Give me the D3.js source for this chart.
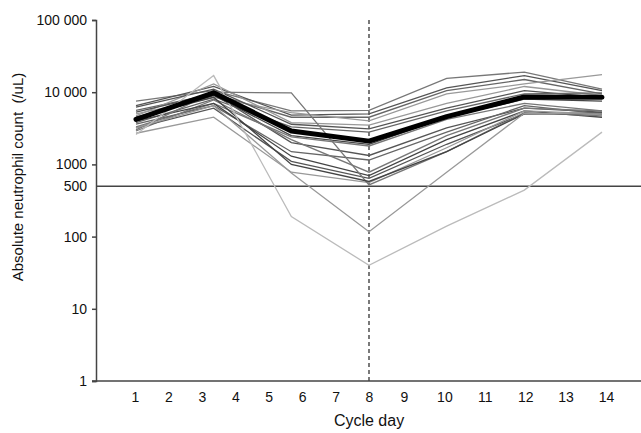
<!DOCTYPE html>
<html>
<head>
<meta charset="utf-8">
<script src="https://cdn.jsdelivr.net/npm/d3@7"></script>
<style>
  body { margin: 0; background: #fff; }
  svg text { font-family: "Liberation Sans", Arial, sans-serif; fill: #111; }
</style>
</head>
<body>
<svg id="chart" width="641" height="433"></svg>
<script>
// sampling days (drawn at equally spaced visits)
const sampleDays = [1, 3, 6, 8, 10, 12, 14];
const axisDays = [1, 2, 3, 4, 5, 6, 7, 8, 9, 10, 11, 12, 13, 14];
const yTicks = [1, 10, 100, 500, 1000, 10000, 100000];

// individual patients, absolute neutrophil count (/uL)
const patients = [
  [7500, 10500, 5500, 5600, 15500, 19000, 11000],
  [6500, 12000, 4800, 5000, 11500, 17000, 10500],
  [5600, 9500, 4500, 4500, 10500, 15000, 9500],
  [5000, 8500, 5200, 4000, 9500, 13000, 17500],
  [4700, 13000, 3800, 3500, 7000, 12000, 9000],
  [6200, 11000, 3600, 3100, 6000, 10500, 8500],
  [3800, 8000, 3300, 2800, 5500, 9500, 9800],
  [4300, 9000, 2500, 1900, 4500, 8000, 7500],
  [3300, 7000, 2400, 1800, 4200, 7000, 5500],
  [5300, 9500, 2000, 1330, 3200, 6000, 5300],
  [3600, 6500, 1500, 1150, 2800, 6500, 5000],
  [2900, 7800, 2200, 780, 2500, 6000, 5500],
  [4000, 7000, 1300, 700, 2200, 5500, 4500],
  [3200, 6000, 1100, 640, 1900, 5000, 5200],
  [2700, 4500, 780, 560, 1700, 5500, 5000],
  [3000, 10000, 9800, 520, 1500, 5200, 4700],
  [4500, 8500, 1000, 580, 1500, 5000, 5000],
  [3200, 6500, 760, 117, 780, 5100, 5000],
  [2600, 17000, 190, 40, 140, 440, 2800]
];
const patientShade = [
  "#777", "#555", "#666", "#999", "#999", "#555", "#666", "#444", "#777", "#555",
  "#666", "#777", "#444", "#555", "#999", "#777", "#444", "#999", "#bbb"
];
const meanCount = [4200, 9800, 2900, 2100, 4600, 8600, 8500];

const svg = d3.select("#chart");
const margin = { top: 20, right: 0, bottom: 52, left: 96 };
const width = 641, height = 433;
const axisY = height - margin.bottom;

const y = d3.scaleLog()
  .domain([1, 100000])
  .range([axisY, margin.top]);

// tick labels on the day axis are not evenly spaced in the original
const xDay = d3.scaleLinear()
  .domain([1, 8, 9, 14])
  .range([135, 369, 404, 606]);

const xVisit = d3.scalePoint()
  .domain(sampleDays)
  .range([136, 602]);

const fmt = d => d >= 10000 ? d3.format(",")(d).replace(/,/g, " ") : String(d);

// cut-off line at 500
svg.append("line")
  .attr("x1", margin.left).attr("x2", width)
  .attr("y1", y(500)).attr("y2", y(500))
  .attr("stroke", "#444").attr("stroke-width", 1.5);

// day 8 marker
svg.append("line")
  .attr("x1", xDay(8)).attr("x2", xDay(8))
  .attr("y1", margin.top).attr("y2", axisY)
  .attr("stroke", "#222").attr("stroke-width", 1.2)
  .attr("stroke-dasharray", "4,3");

const line = d3.line()
  .x((d, i) => xVisit(sampleDays[i]))
  .y(d => y(d));

svg.append("g")
  .selectAll("path")
  .data(patients)
  .join("path")
  .attr("fill", "none")
  .attr("stroke", (d, i) => patientShade[i])
  .attr("stroke-width", 1.3)
  .attr("d", line);

svg.append("path")
  .datum(meanCount)
  .attr("fill", "none")
  .attr("stroke", "#000")
  .attr("stroke-width", 5)
  .attr("stroke-linecap", "round")
  .attr("stroke-linejoin", "round")
  .attr("d", line);

// y axis
const yAxis = svg.append("g")
  .attr("transform", `translate(${margin.left},0)`)
  .call(d3.axisLeft(y).tickValues(yTicks).tickFormat(fmt).tickSize(4).tickPadding(5));
yAxis.select(".domain").attr("stroke", "#444").attr("stroke-width", 1.5);
yAxis.selectAll(".tick line").attr("stroke", "#444").attr("stroke-width", 1.5);
yAxis.selectAll(".tick").filter(d => d === 500).select("line").remove();
yAxis.selectAll("text").attr("font-size", "14px")
  .attr("font-family", "Liberation Sans, Arial, sans-serif").attr("fill", "#111");

// x axis
svg.append("line")
  .attr("x1", margin.left - 4).attr("x2", width)
  .attr("y1", axisY).attr("y2", axisY)
  .attr("stroke", "#444").attr("stroke-width", 1.5);

const xAxis = svg.append("g")
  .attr("transform", `translate(0,${axisY})`)
  .call(d3.axisBottom(xDay).tickValues(axisDays).tickFormat(d3.format("d")).tickSize(0).tickPadding(11));
xAxis.select(".domain").remove();
xAxis.selectAll("text").attr("font-size", "14px")
  .attr("font-family", "Liberation Sans, Arial, sans-serif").attr("fill", "#111");

svg.append("text")
  .attr("x", xDay(8))
  .attr("y", 426)
  .attr("text-anchor", "middle")
  .attr("font-size", "16px")
  .text("Cycle day");

svg.append("text")
  .attr("transform", `translate(23,177) rotate(-90)`)
  .attr("text-anchor", "middle")
  .attr("font-size", "15px")
  .style("white-space", "pre")
  .text("Absolute neutrophil count  (/uL)");
</script>
</body>
</html>
